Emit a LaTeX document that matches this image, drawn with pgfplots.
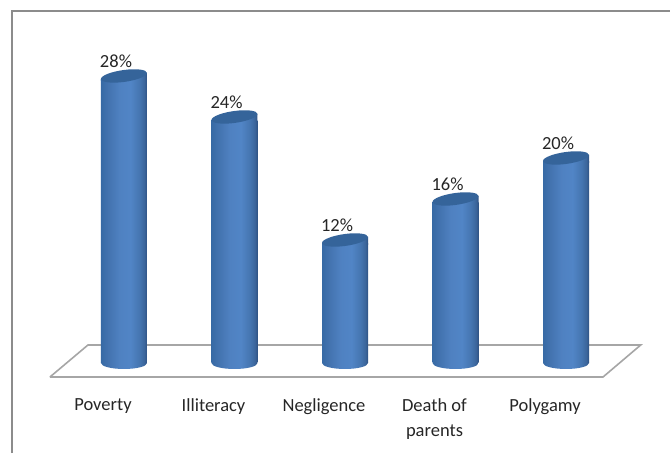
\documentclass[border=0pt]{standalone}
\usepackage{fontspec}
\setmainfont{Carlito}
\usepackage{pgfplots}
\usepackage{pgfplotstable}
\pgfplotsset{compat=1.18}

\definecolor{capblue}{HTML}{35649A}
\definecolor{framegray}{HTML}{8C8C8C}
\definecolor{floorgray}{HTML}{A6A6A6}
\definecolor{labelgray}{HTML}{262626}
\definecolor{cylA}{HTML}{376AA5}
\definecolor{cylB}{HTML}{4272AE}
\definecolor{cylC}{HTML}{4F81C1}
\definecolor{cylD}{HTML}{5185C6}
\definecolor{cylE}{HTML}{4575B0}
\definecolor{cylF}{HTML}{3C669C}
\definecolor{cylG}{HTML}{2E5283}

\pgfdeclarehorizontalshading{cyl}{100bp}{
  color(0bp)=(cylA);
  color(25bp)=(cylA);
  color(32bp)=(cylB);
  color(45bp)=(cylC);
  color(57bp)=(cylD);
  color(67bp)=(cylE);
  color(72bp)=(cylF);
  color(75bp)=(cylG);
  color(100bp)=(cylG)}

% bottom of a cylinder
\pgfdeclareplotmark{cylbase}{
  \path[draw=none, shading=cyl] (0pt,0pt) ellipse[x radius=23pt, y radius=6pt];
}
% tilted top: wedge that closes the body, then the lid
\pgfdeclareplotmark{cyltop}{
  \path[draw=none, shading=cyl] (-23pt,-3pt) -- (23pt,3pt) -- (23pt,-5pt) -- (-23pt,-5pt) -- cycle;
  \pgfpathellipse{\pgfpointorigin}{\pgfpoint{23pt}{3pt}}{\pgfpoint{0pt}{6pt}}
  \pgfsetfillcolor{capblue}
  \pgfusepathqfill
}

\pgfplotstableread{
pos share
0 28
1 24
2 12
3 16
4 20
}\causes

\begin{document}
\begin{tikzpicture}
\useasboundingbox (0,0) rectangle (670pt,453pt);
\begin{axis}[
    scale only axis,
    width=670pt,
    height=453pt,
    xmin=-1.122, xmax=4.941,
    ymin=-8.78, ymax=35.41,
    clip=false,
    axis line style={draw=none},
    tick style={draw=none},
    ytick=\empty,
    xtick={0,1,2,3,4},
    xticklabels={Poverty,Illiteracy,Negligence,{Death of\\parents},Polygamy},
    x tick label style={align=center, anchor=north, xshift=-21pt, yshift=58pt, font=\fontsize{18.5}{25}\selectfont, text=labelgray},
]
% frame (open at the right and bottom)
\addplot[framegray, line width=1.6pt, forget plot] coordinates {(-1.013,-8.78) (-1.013,34.33) (4.941,34.33)};
% floor
\addplot[floorgray, line width=1.6pt, fill=white, forget plot] coordinates {(-0.670,-1.366) (-0.326,1.756) (4.676,1.756) (4.335,-1.366) (-0.670,-1.366)};
% cylinders
\addplot[only marks, mark=cylbase, mark options={draw=none}, forget plot] table[x=pos, y expr=0] {\causes};
\pgfplotsinvokeforeach{0,1,2,3,4}{
  \addplot[ybar, bar width=46pt, draw=none, shading=cyl, forget plot, restrict x to domain=#1:#1] table[x=pos, y expr=\thisrow{share}-0.39] {\causes};
}
\addplot[only marks, mark=cyltop, mark options={draw=none},
    nodes near coords={\pgfmathprintnumber[assume math mode=true]{\pgfplotspointmeta}\%},
    point meta=y,
    nodes near coords style={anchor=center, xshift=-8pt, yshift=15pt, font=\fontsize{18.5}{23}\selectfont, text=labelgray},
] table[x=pos, y=share] {\causes};
\end{axis}
\end{tikzpicture}
\end{document}
